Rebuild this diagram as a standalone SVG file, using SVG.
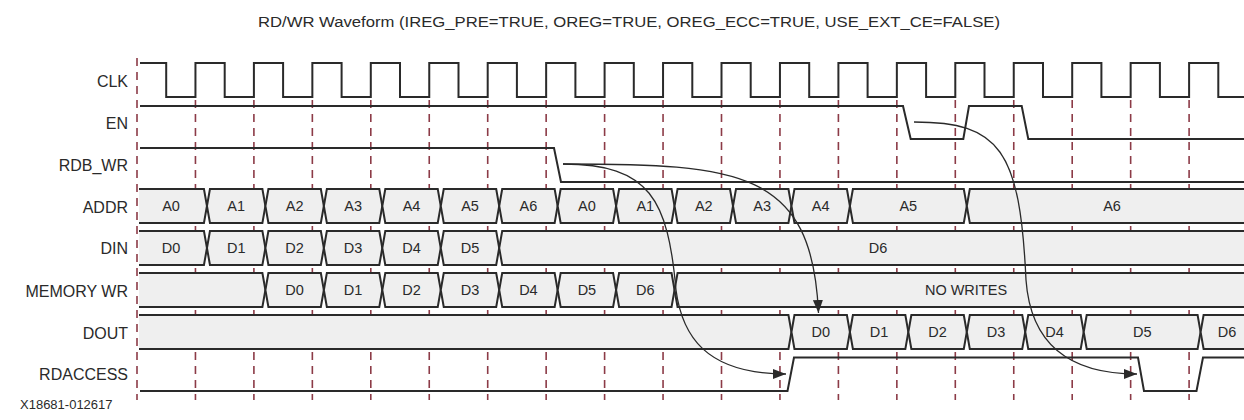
<svg xmlns="http://www.w3.org/2000/svg" width="1244" height="420" viewBox="0 0 1244 420">
<style>
  .lbl{font-family:"Liberation Sans",Arial,sans-serif;font-size:16px;fill:#2a2a2a;text-anchor:end}
  .bt{font-family:"Liberation Sans",Arial,sans-serif;font-size:14.5px;fill:#2a2a2a;text-anchor:middle}
  .title{font-family:"Liberation Sans",Arial,sans-serif;font-size:15.5px;fill:#2a2a2a}
  .foot{font-family:"Liberation Sans",Arial,sans-serif;font-size:13px;fill:#2a2a2a}
  .wave{fill:none;stroke:#2a2a2a;stroke-width:2;stroke-linejoin:miter}
  .bus{fill:#efefef;stroke:#2a2a2a;stroke-width:2;stroke-linejoin:miter}
  .grid{stroke:#8c3b47;stroke-width:1.6;stroke-dasharray:8,6;fill:none}
  .conn{fill:none;stroke:#2a2a2a;stroke-width:1.3}
</style>
<defs>
  <marker id="arr" markerUnits="userSpaceOnUse" markerWidth="14" markerHeight="10" refX="13" refY="5" orient="auto">
    <path d="M0,0 L13,5 L0,10 Z" fill="#2a2a2a"/>
  </marker>
</defs>
<rect width="1244" height="420" fill="#ffffff"/>
<text class="title" x="258" y="26.5" textLength="742" lengthAdjust="spacingAndGlyphs">RD/WR Waveform (IREG_PRE=TRUE, OREG=TRUE, OREG_ECC=TRUE, USE_EXT_CE=FALSE)</text>

<g id="grid">
  <line class="grid" x1="137" y1="58" x2="137" y2="400"/>
  <line class="grid" x1="195.45" y1="100" x2="195.45" y2="400"/>
  <line class="grid" x1="253.9" y1="100" x2="253.9" y2="400"/>
  <line class="grid" x1="312.35" y1="100" x2="312.35" y2="400"/>
  <line class="grid" x1="370.8" y1="100" x2="370.8" y2="400"/>
  <line class="grid" x1="429.25" y1="100" x2="429.25" y2="400"/>
  <line class="grid" x1="487.7" y1="100" x2="487.7" y2="400"/>
  <line class="grid" x1="546.15" y1="100" x2="546.15" y2="400"/>
  <line class="grid" x1="604.6" y1="100" x2="604.6" y2="400"/>
  <line class="grid" x1="663.05" y1="100" x2="663.05" y2="400"/>
  <line class="grid" x1="721.5" y1="100" x2="721.5" y2="400"/>
  <line class="grid" x1="779.95" y1="100" x2="779.95" y2="400"/>
  <line class="grid" x1="838.4" y1="100" x2="838.4" y2="400"/>
  <line class="grid" x1="896.85" y1="100" x2="896.85" y2="400"/>
  <line class="grid" x1="955.3" y1="100" x2="955.3" y2="400"/>
  <line class="grid" x1="1013.75" y1="100" x2="1013.75" y2="400"/>
  <line class="grid" x1="1072.2" y1="100" x2="1072.2" y2="400"/>
  <line class="grid" x1="1130.65" y1="100" x2="1130.65" y2="400"/>
  <line class="grid" x1="1189.1" y1="100" x2="1189.1" y2="400"/>
</g>

<g id="clk">
  <text class="lbl" x="128" y="86.5">CLK</text>
  <path class="wave" d="M140,63 H166.2 V97 H195.45 V63 H224.7 V97 H253.9 V63 H283.1 V97 H312.35 V63 H341.6 V97 H370.8 V63 H400 V97 H429.25 V63 H458.5 V97 H487.7 V63 H516.9 V97 H546.15 V63 H575.4 V97 H604.6 V63 H633.8 V97 H663.05 V63 H692.3 V97 H721.5 V63 H750.7 V97 H779.95 V63 H809.2 V97 H838.4 V63 H867.6 V97 H896.85 V63 H926.1 V97 H955.3 V63 H984.5 V97 H1013.75 V63 H1043 V97 H1072.2 V63 H1101.4 V97 H1130.65 V63 H1159.9 V97 H1189.1 V63 H1218.3 V97 H1244"/>
</g>

<g id="en">
  <text class="lbl" x="128" y="129">EN</text>
  <path class="wave" d="M140,106 H903 L910.7,139 H963.3 L969,106 H1021.7 L1028.3,139 H1244"/>
</g>

<g id="rdb_wr">
  <text class="lbl" x="128" y="171">RDB_WR</text>
  <path class="wave" d="M140,148 H554 L561,182 H1244"/>
</g>

<g id="addr">
  <text class="lbl" x="128" y="213">ADDR</text>
  <path class="bus" d="M139,189 H203.95 L206.95,206 L203.95,223 H139"/>
  <path class="bus" d="M209.95,189 H262.4 L265.4,206 L262.4,223 H209.95 L206.95,206 Z"/>
  <path class="bus" d="M268.4,189 H320.85 L323.85,206 L320.85,223 H268.4 L265.4,206 Z"/>
  <path class="bus" d="M326.85,189 H379.3 L382.3,206 L379.3,223 H326.85 L323.85,206 Z"/>
  <path class="bus" d="M385.3,189 H437.75 L440.75,206 L437.75,223 H385.3 L382.3,206 Z"/>
  <path class="bus" d="M443.75,189 H496.2 L499.2,206 L496.2,223 H443.75 L440.75,206 Z"/>
  <path class="bus" d="M502.2,189 H554.65 L557.65,206 L554.65,223 H502.2 L499.2,206 Z"/>
  <path class="bus" d="M560.65,189 H613.1 L616.1,206 L613.1,223 H560.65 L557.65,206 Z"/>
  <path class="bus" d="M619.1,189 H671.55 L674.55,206 L671.55,223 H619.1 L616.1,206 Z"/>
  <path class="bus" d="M677.55,189 H730 L733,206 L730,223 H677.55 L674.55,206 Z"/>
  <path class="bus" d="M736,189 H788.45 L791.45,206 L788.45,223 H736 L733,206 Z"/>
  <path class="bus" d="M794.45,189 H846.9 L849.9,206 L846.9,223 H794.45 L791.45,206 Z"/>
  <path class="bus" d="M852.9,189 H963.8 L966.8,206 L963.8,223 H852.9 L849.9,206 Z"/>
  <path class="bus" d="M1244,189 H969.8 L966.8,206 L969.8,223 H1244"/>
  <text class="bt" x="171" y="211">A0</text>
  <text class="bt" x="236.2" y="211">A1</text>
  <text class="bt" x="294.6" y="211">A2</text>
  <text class="bt" x="353.1" y="211">A3</text>
  <text class="bt" x="411.5" y="211">A4</text>
  <text class="bt" x="470" y="211">A5</text>
  <text class="bt" x="528.4" y="211">A6</text>
  <text class="bt" x="586.9" y="211">A0</text>
  <text class="bt" x="645.3" y="211">A1</text>
  <text class="bt" x="703.8" y="211">A2</text>
  <text class="bt" x="762.2" y="211">A3</text>
  <text class="bt" x="820.7" y="211">A4</text>
  <text class="bt" x="908.3" y="211">A5</text>
  <text class="bt" x="1112" y="211">A6</text>
</g>

<g id="din">
  <text class="lbl" x="128" y="254">DIN</text>
  <path class="bus" d="M139,231 H203.95 L206.95,248 L203.95,265 H139"/>
  <path class="bus" d="M209.95,231 H262.4 L265.4,248 L262.4,265 H209.95 L206.95,248 Z"/>
  <path class="bus" d="M268.4,231 H320.85 L323.85,248 L320.85,265 H268.4 L265.4,248 Z"/>
  <path class="bus" d="M326.85,231 H379.3 L382.3,248 L379.3,265 H326.85 L323.85,248 Z"/>
  <path class="bus" d="M385.3,231 H437.75 L440.75,248 L437.75,265 H385.3 L382.3,248 Z"/>
  <path class="bus" d="M443.75,231 H496.2 L499.2,248 L496.2,265 H443.75 L440.75,248 Z"/>
  <path class="bus" d="M1244,231 H502.2 L499.2,248 L502.2,265 H1244"/>
  <text class="bt" x="171" y="253">D0</text>
  <text class="bt" x="236.2" y="253">D1</text>
  <text class="bt" x="294.6" y="253">D2</text>
  <text class="bt" x="353.1" y="253">D3</text>
  <text class="bt" x="411.5" y="253">D4</text>
  <text class="bt" x="470" y="253">D5</text>
  <text class="bt" x="878" y="253">D6</text>
</g>

<g id="memory_wr">
  <text class="lbl" x="128" y="296.5">MEMORY WR</text>
  <path class="bus" d="M139,273 H262.4 L265.4,290 L262.4,307 H139"/>
  <path class="bus" d="M268.4,273 H320.85 L323.85,290 L320.85,307 H268.4 L265.4,290 Z"/>
  <path class="bus" d="M326.85,273 H379.3 L382.3,290 L379.3,307 H326.85 L323.85,290 Z"/>
  <path class="bus" d="M385.3,273 H437.75 L440.75,290 L437.75,307 H385.3 L382.3,290 Z"/>
  <path class="bus" d="M443.75,273 H496.2 L499.2,290 L496.2,307 H443.75 L440.75,290 Z"/>
  <path class="bus" d="M502.2,273 H554.65 L557.65,290 L554.65,307 H502.2 L499.2,290 Z"/>
  <path class="bus" d="M560.65,273 H613.1 L616.1,290 L613.1,307 H560.65 L557.65,290 Z"/>
  <path class="bus" d="M619.1,273 H671.55 L674.55,290 L671.55,307 H619.1 L616.1,290 Z"/>
  <path class="bus" d="M1244,273 H677.55 L674.55,290 L677.55,307 H1244"/>
  <text class="bt" x="294.6" y="295">D0</text>
  <text class="bt" x="353.1" y="295">D1</text>
  <text class="bt" x="411.5" y="295">D2</text>
  <text class="bt" x="470" y="295">D3</text>
  <text class="bt" x="528.4" y="295">D4</text>
  <text class="bt" x="586.9" y="295">D5</text>
  <text class="bt" x="645.3" y="295">D6</text>
  <text class="bt" x="966" y="295">NO WRITES</text>
</g>

<g id="dout">
  <text class="lbl" x="128" y="339">DOUT</text>
  <path class="bus" d="M139,315 H788.45 L791.45,332 L788.45,349 H139"/>
  <path class="bus" d="M794.45,315 H846.9 L849.9,332 L846.9,349 H794.45 L791.45,332 Z"/>
  <path class="bus" d="M852.9,315 H905.35 L908.35,332 L905.35,349 H852.9 L849.9,332 Z"/>
  <path class="bus" d="M911.35,315 H963.8 L966.8,332 L963.8,349 H911.35 L908.35,332 Z"/>
  <path class="bus" d="M969.8,315 H1022.25 L1025.25,332 L1022.25,349 H969.8 L966.8,332 Z"/>
  <path class="bus" d="M1028.25,315 H1080.7 L1083.7,332 L1080.7,349 H1028.25 L1025.25,332 Z"/>
  <path class="bus" d="M1086.7,315 H1197.6 L1200.6,332 L1197.6,349 H1086.7 L1083.7,332 Z"/>
  <path class="bus" d="M1244,315 H1203.6 L1200.6,332 L1203.6,349 H1244"/>
  <text class="bt" x="820.7" y="337">D0</text>
  <text class="bt" x="879.1" y="337">D1</text>
  <text class="bt" x="937.6" y="337">D2</text>
  <text class="bt" x="996" y="337">D3</text>
  <text class="bt" x="1054.5" y="337">D4</text>
  <text class="bt" x="1142.2" y="337">D5</text>
  <text class="bt" x="1227" y="337">D6</text>
</g>

<g id="rdaccess">
  <text class="lbl" x="128" y="380">RDACCESS</text>
  <path class="wave" d="M140,391 H787.5 L794,357.5 H1138 L1144,391 H1196.5 L1203,357.5 H1244"/>
</g>

<g id="connectors">
  <path class="conn" marker-end="url(#arr)" d="M563,164 C650,164 668,200 676,290 C682,335 705,374 786,374"/>
  <path class="conn" marker-end="url(#arr)" d="M563,164 C740,164 812,170 818.5,313"/>
  <path class="conn" marker-end="url(#arr)" d="M914,122 C1000,122 1020,150 1026,280 C1030,335 1060,374 1137,374"/>
</g>

<text class="foot" x="20" y="409">X18681-012617</text>
</svg>
